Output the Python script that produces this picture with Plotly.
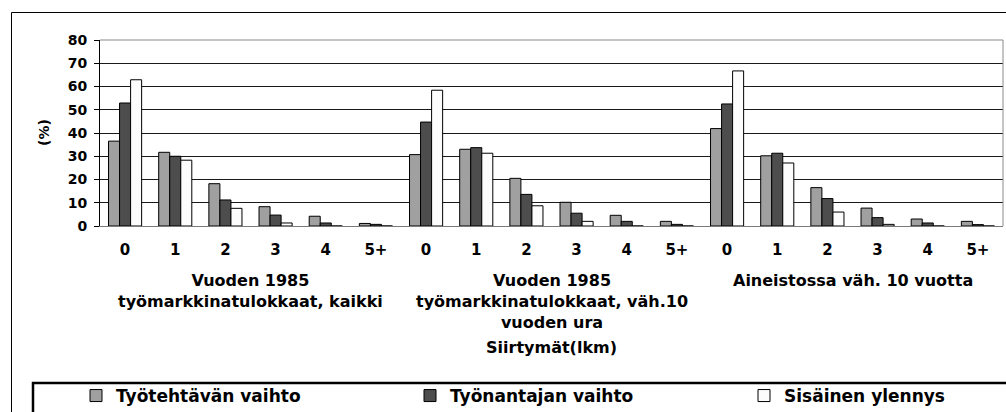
import plotly.graph_objects as go

# ---- data ----
transitions = ["0", "1", "2", "3", "4", "5+"]
groups = [
    "Vuoden 1985<br>työmarkkinatulokkaat, kaikki",
    "Vuoden 1985<br>työmarkkinatulokkaat, väh.10<br>vuoden ura",
    "Aineistossa väh. 10 vuotta",
]
series_names = ["Työtehtävän vaihto", "Työnantajan vaihto", "Sisäinen ylennys"]
tyotehtavan_vaihto = [36.5, 31.7, 18.2, 8.3, 4.2, 1.1,
                      30.7, 33.0, 20.5, 10.2, 4.6, 2.0,
                      41.9, 30.2, 16.5, 7.7, 3.0, 2.0]
tyonantajan_vaihto = [52.9, 30.0, 11.2, 4.7, 1.3, 0.7,
                      44.7, 33.7, 13.6, 5.5, 2.0, 0.7,
                      52.5, 31.3, 11.8, 3.6, 1.3, 0.6]
sisainen_ylennys = [62.9, 28.3, 7.6, 1.3, 0.0, 0.0,
                    58.4, 31.3, 8.7, 2.0, 0.0, 0.0,
                    66.7, 27.1, 6.0, 0.7, 0.0, 0.0]
y_title = "(%)"
x_title = "Siirtymät(lkm)"

colors = ["#A0A0A0", "#4D4D4D", "#FCFCFC"]
FONT = "DejaVu Sans"

x_idx = list(range(len(transitions) * len(groups)))
tick_text = transitions * len(groups)

W, H = 1006, 412
L, R, T, B = 100, 3, 40, 186
pw, ph = W - L - R, H - T - B

def px_x(p):
    return (p - L) / pw

def px_y(p):
    return (H - B - p) / ph

bold = dict(family=FONT, color="#000000", weight="bold")

legend_ids = ["legend", "legend2", "legend3"]
legend_left_px = [76, 410, 744]

fig = go.Figure()
for name, vals, col, lid in zip(series_names,
                                [tyotehtavan_vaihto, tyonantajan_vaihto, sisainen_ylennys],
                                colors, legend_ids):
    fig.add_trace(go.Bar(
        x=x_idx, y=vals, name=name, legend=lid,
        marker=dict(color=col, line=dict(color="#000000", width=1)),
    ))

annotations = []
n = len(transitions)
for gi, g in enumerate(groups):
    annotations.append(dict(
        text=g, xref="x", yref="paper", x=gi * n + (n - 1) / 2, y=px_y(269),
        xanchor="center", yanchor="top", showarrow=False, align="center",
        font=dict(size=16, **bold),
    ))
annotations.append(dict(
    text=x_title, xref="paper", yref="paper", x=0.5, y=px_y(347),
    xanchor="center", yanchor="middle", showarrow=False,
    font=dict(size=16, **bold),
))
annotations.append(dict(
    text=y_title, xref="paper", yref="paper", x=px_x(44), y=0.5,
    xanchor="center", yanchor="middle", showarrow=False, textangle=-90,
    font=dict(size=14, **bold),
))

shapes = [
    # outer chart border
    dict(type="rect", xref="paper", yref="paper",
         x0=px_x(11.5), x1=px_x(1015), y0=px_y(425), y1=px_y(12.5),
         line=dict(color="#000000", width=1), layer="below"),
    # legend box
    dict(type="rect", xref="paper", yref="paper",
         x0=px_x(33), x1=px_x(1015), y0=px_y(425), y1=px_y(383),
         line=dict(color="#000000", width=2.5), layer="below"),
    # right plot border
    dict(type="line", xref="paper", yref="paper", x0=1, x1=1, y0=0, y1=1,
         line=dict(color="#8A8A8A", width=1)),
    # top plot border (gray)
    dict(type="line", xref="paper", yref="paper", x0=0, x1=1, y0=1, y1=1,
         line=dict(color="#8A8A8A", width=1)),
]

legend_common = dict(
    orientation="h", xanchor="left", y=px_y(378), yanchor="top",
    font=dict(size=17, **bold), bgcolor="rgba(0,0,0,0)",
    itemclick=False, itemdoubleclick=False,
)

fig.update_layout(
    width=W, height=H, autosize=False,
    margin=dict(l=L, r=R, t=T, b=B, pad=0, autoexpand=False),
    paper_bgcolor="#FFFFFF", plot_bgcolor="#FFFFFF",
    barmode="group", bargap=0.34, bargroupgap=0,
    font=dict(family=FONT, color="#000000"),
    showlegend=True,
    legend=dict(x=px_x(legend_left_px[0]), **legend_common),
    legend2=dict(x=px_x(legend_left_px[1]), **legend_common),
    legend3=dict(x=px_x(legend_left_px[2]), **legend_common),
    xaxis=dict(
        range=[-0.5, len(x_idx) - 0.5], tickmode="array",
        tickvals=x_idx, ticktext=tick_text, ticks="",
        tickfont=dict(size=15, **bold), ticklabelstandoff=10,
        showgrid=False, zeroline=False, showline=True,
        linecolor="#7A7A7A", linewidth=1, mirror=False, fixedrange=True,
    ),
    yaxis=dict(
        range=[0, 80], dtick=10, tick0=0, ticks="outside", ticklen=5,
        tickcolor="#000000", tickfont=dict(size=14, **bold),
        ticklabelstandoff=4,
        showgrid=True, gridcolor="#1A1A1A", gridwidth=1,
        zeroline=False, showline=True, linecolor="#000000", linewidth=1,
        fixedrange=True,
    ),
    annotations=annotations,
    shapes=shapes,
)

fig.write_html(
    "out.html",
    config={"displayModeBar": False, "staticPlot": True},
    post_script="document.body.style.margin='0';document.body.style.padding='0';"
                "document.body.style.overflow='hidden';"
                "document.documentElement.style.overflow='hidden';",
)
